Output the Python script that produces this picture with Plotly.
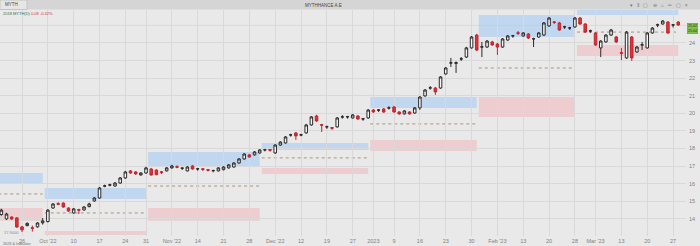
import pandas as pd
import plotly.graph_objects as go

# ---------------- data ----------------
holidays = ["2022-10-28", "2022-12-26", "2023-01-06", "2023-02-27"]
dates = [d for d in pd.bdate_range("2022-09-20", "2023-03-28")
         if d.strftime("%Y-%m-%d") not in holidays]

open_ = [14.25,14.00,14.11,14.06,13.55,13.62,13.50,13.55,13.78,13.85,
         14.62,14.87,14.90,14.62,14.34,14.53,14.51,14.70,15.02,15.19,
         15.86,15.92,15.87,16.04,16.33,16.73,16.67,16.50,16.61,16.84,
         16.78,16.68,16.73,16.90,16.97,16.88,16.73,17.01,16.84,16.85,
         16.80,16.74,16.73,16.80,16.90,16.95,17.18,17.41,17.64,17.64,
         17.75,17.92,17.94,17.75,18.20,18.32,18.77,18.89,18.77,18.89,
         19.34,19.85,19.36,19.23,19.19,19.23,19.79,19.80,19.74,19.85,
         19.68,19.74,20.19,20.18,20.25,20.30,20.36,20.08,19.97,20.08,
         20.02,20.31,20.99,21.44,21.44,21.44,22.24,22.86,22.84,23.09,
         23.20,23.72,24.45,23.77,23.77,24.06,23.94,23.77,24.17,24.40,
         24.58,24.40,24.51,24.23,24.34,24.45,24.97,25.20,25.14,24.91,
         24.85,24.91,25.42,25.08,24.68,24.57,23.72,24.06,24.45,24.34,
         23.45,23.15,24.34,23.49,23.89,23.72,24.57,25.02,25.08,25.19,
         25.02,25.19]
high = [14.58,14.35,14.15,14.10,13.60,13.80,13.62,13.82,14.05,14.56,
        14.90,14.95,14.95,14.66,14.62,14.58,14.72,14.92,15.25,15.82,
        15.95,16.00,16.10,16.38,16.73,16.78,16.72,16.66,16.96,16.90,
        16.82,16.72,16.95,17.08,17.05,16.92,17.00,17.06,16.90,16.88,
        16.84,16.80,16.94,17.00,17.12,17.22,17.46,17.74,17.70,17.86,
        17.97,17.98,17.97,18.25,18.42,18.71,18.84,18.94,18.84,19.40,
        19.85,19.92,19.40,19.30,19.22,19.79,19.90,19.86,19.96,19.90,
        19.74,20.24,20.24,20.25,20.30,20.40,20.42,20.12,20.18,20.12,
        20.36,20.98,21.38,21.55,21.50,22.12,22.63,23.15,22.95,23.20,
        23.78,24.40,24.52,24.06,24.17,24.12,24.00,24.28,24.45,24.46,
        24.68,24.62,24.56,24.30,24.62,25.19,25.48,25.25,25.20,24.98,
        24.92,25.48,25.48,25.12,24.76,24.62,24.16,24.50,24.80,24.40,
        23.72,24.68,24.40,23.83,24.06,24.62,24.90,25.10,25.30,25.25,
        25.08,25.24]
low = [14.18,13.95,13.95,13.50,13.26,13.58,13.28,13.50,13.68,13.80,
       14.58,14.78,14.64,14.40,14.30,14.28,14.47,14.66,14.98,15.15,
       15.80,15.85,15.83,16.00,16.28,16.57,16.50,16.46,16.57,16.46,
       16.48,16.55,16.70,16.86,16.88,16.78,16.70,16.80,16.74,16.72,
       16.70,16.65,16.70,16.76,16.86,16.92,17.14,17.37,17.48,17.60,
       17.71,17.84,17.82,17.70,18.16,18.28,18.68,18.49,18.70,18.85,
       19.30,19.52,18.94,19.12,19.06,19.19,19.70,19.70,19.70,19.64,
       19.58,19.70,20.04,20.08,20.03,20.22,20.03,19.92,19.93,19.93,
       19.98,20.20,20.95,21.35,21.05,21.40,22.20,22.64,22.30,22.98,
       23.15,23.68,23.55,23.20,23.72,23.84,23.32,23.72,24.12,24.30,
       24.45,24.36,24.24,23.77,24.30,24.40,24.92,25.08,24.70,24.80,
       24.74,24.86,25.03,24.58,24.58,23.84,23.20,24.02,24.40,24.00,
       23.03,23.10,22.98,23.44,23.60,23.68,24.52,24.90,25.04,24.52,
       24.88,24.98]
close = [14.50,14.28,14.00,13.54,13.38,13.75,13.47,13.77,13.89,14.50,
         14.85,14.84,14.68,14.45,14.57,14.50,14.68,14.85,15.19,15.76,
         15.88,15.94,16.04,16.33,16.67,16.61,16.56,16.61,16.90,16.50,
         16.52,16.65,16.90,17.01,16.94,16.89,16.95,16.84,16.85,16.82,
         16.77,16.75,16.90,16.95,17.07,17.18,17.41,17.69,17.52,17.81,
         17.92,17.93,17.91,18.20,18.37,18.66,18.78,18.72,18.78,19.34,
         19.80,19.57,19.33,19.24,19.16,19.74,19.80,19.81,19.91,19.68,
         19.69,20.19,20.08,20.19,20.08,20.31,20.08,19.97,20.14,19.97,
         20.31,20.93,21.33,21.45,21.22,22.07,22.58,22.87,22.88,23.10,
         23.72,24.34,23.60,23.78,24.11,23.89,23.77,24.23,24.40,24.41,
         24.55,24.57,24.28,24.24,24.57,25.14,25.42,25.17,24.74,24.92,
         24.86,25.42,25.08,24.62,24.69,23.89,24.11,24.45,24.74,24.06,
         23.42,24.62,23.15,23.77,23.90,24.57,24.85,25.03,25.25,24.57,
         25.03,25.02]

tick_dates = ["2022-09-26","2022-10-03","2022-10-10","2022-10-17","2022-10-24",
              "2022-10-31","2022-11-07","2022-11-14","2022-11-21","2022-11-28",
              "2022-12-05","2022-12-12","2022-12-19","2022-12-27","2023-01-02",
              "2023-01-09","2023-01-16","2023-01-23","2023-01-30","2023-02-06",
              "2023-02-13","2023-02-20","2023-02-28","2023-03-06","2023-03-13",
              "2023-03-20","2023-03-27"]
tick_text = ["26","Oct '22","10","17","24","31","Nov '22","14","21","28",
             "Dec '22","12","19","27","2023","9","16","23","30","Feb '23",
             "13","20","28","Mar '23","13","20","27"]

months = ["2022-09","2022-10","2022-11","2022-12","2023-01","2023-02","2023-03"]
zone_hi_top = [16.61, 15.76, 17.81, 18.32, 20.93, 25.59, 26.10]
zone_hi_bot = [16.04, 15.14, 16.95, 17.92, 20.31, 24.34, 25.59]
zone_mid    = [15.42, 14.34, 15.87, 17.47, 19.40, 22.58, 24.62]
zone_lo_top = [14.62, 13.32, 14.62, 16.90, 18.49, 20.93, 23.89]
zone_lo_bot = [13.89, 13.09, 13.89, 16.56, 17.86, 19.80, 23.26]

last_price = 25.02
y_ticks = list(range(14, 25))
y_grid = list(range(14, 26))

# ---------------- figure ----------------
W, H = 700, 246
ML, MR, MT, MB = 0, 14, 10, 10
PW, PH = W - ML - MR, H - MT - MB
X0_IDX, X1_IDX = -4.26, 128.5
Y0, Y1 = 13.03, 25.875

base = dates.index(pd.Timestamp("2022-09-26"))
xi = [i - base for i in range(len(dates))]
pos = {d.strftime("%Y-%m-%d"): x for d, x in zip(dates, xi)}
tickvals = [pos[d] for d in tick_dates]

fig = go.Figure()
fig.add_trace(go.Candlestick(
    x=xi, open=open_, high=high, low=low, close=close,
    increasing=dict(line=dict(color="#2b2b2b", width=1), fillcolor="#f7f7f7"),
    decreasing=dict(line=dict(color="#c3262e", width=1), fillcolor="#e0333b"),
    whiskerwidth=0, showlegend=False, hoverinfo="skip"))

shapes = []
# grid line at 25 (label hidden under price tag)
shapes.append(dict(type="line", xref="paper", yref="y", x0=0, x1=1,
                   y0=y_grid[-1], y1=y_grid[-1], layer="below",
                   line=dict(color="#d9d9d9", width=1)))
for k, m in enumerate(months):
    idxs = [x for d, x in zip(dates, xi) if d.strftime("%Y-%m") == m]
    a, b = min(idxs) - 0.6, max(idxs)
    shapes.append(dict(type="rect", xref="x", yref="y", x0=a, x1=b,
                       y0=zone_hi_bot[k], y1=zone_hi_top[k], layer="below",
                       fillcolor="rgba(160,200,245,0.55)", line=dict(width=0)))
    shapes.append(dict(type="rect", xref="x", yref="y", x0=a, x1=b,
                       y0=zone_lo_bot[k], y1=zone_lo_top[k], layer="below",
                       fillcolor="rgba(245,170,180,0.45)", line=dict(width=0)))
    shapes.append(dict(type="line", xref="x", yref="y", x0=a, x1=b,
                       y0=zone_mid[k], y1=zone_mid[k], layer="below",
                       line=dict(color="#a8957a", width=1, dash="dot")))

def px(x):
    return (x - ML) / PW

def py(y):
    return 1 - (y - MT) / PH

# top toolbar
shapes.append(dict(type="rect", xref="paper", yref="paper", x0=0, x1=W / PW,
                   y0=py(9.5), y1=py(-1), fillcolor="#d5d5d5",
                   line=dict(width=0), layer="above"))
shapes.append(dict(type="rect", xref="paper", yref="paper", x0=0, x1=px(27),
                   y0=py(9.5), y1=py(0), fillcolor="#e6e6e6",
                   line=dict(color="#c4c4c4", width=1), layer="above"))

fnt = "Liberation Sans, Arial, sans-serif"
ann = []
def text(x, y, s, size=5, color="#555", xanchor="left", **kw):
    ann.append(dict(x=px(x), y=py(y), xref="paper", yref="paper", text=s,
                    showarrow=False, xanchor=xanchor, yanchor="middle",
                    font=dict(family=fnt, size=size, color=color), **kw))

text(3, 4.5, "MYTH", 4.5, "#444")
text(323, 5, "MYTHHANCE A.E", 4.5, "#444", xanchor="center")
text(690, 5, "▾   ‖   ▢   ⊖   ⌂   ═   ▢   ×", 5, "#777", xanchor="right")
text(1, 13.5, "2018 MYTH(D)", 4, "#3f6b3f")
text(29, 13.5, "0.08 -0.32%", 4, "#d23a3a")
text(2, 232, "17.9000", 4, "#8a8a8a")
text(1, 243.5, "2023 & Indicator", 3.8, "#666")

ann.append(dict(x=1.002, y=last_price - 0.17, xref="paper", yref="y",
                text="25.02<br>25.04", showarrow=False, xanchor="left",
                yanchor="middle", bgcolor="#7fc14a", bordercolor="#5d9a33",
                borderwidth=0.5, borderpad=0.5,
                font=dict(family=fnt, size=3.6, color="#1d3b0d")))

fig.update_layout(
    width=W, height=H, margin=dict(l=ML, r=MR, t=MT, b=MB, pad=0),
    paper_bgcolor="#e9e9e9", plot_bgcolor="#e9e9e9",
    shapes=shapes, annotations=ann,
    xaxis=dict(range=[X0_IDX, X1_IDX], tickmode="array", tickvals=tickvals,
               ticktext=tick_text, showgrid=True, gridcolor="#d9d9d9",
               gridwidth=1, zeroline=False, rangeslider=dict(visible=False),
               ticks="", tickfont=dict(family=fnt, size=5.5, color="#808080"),
               showline=False, fixedrange=True),
    yaxis=dict(range=[Y0, Y1], side="right", tickmode="array",
               tickvals=y_ticks, ticktext=[str(v) for v in y_ticks],
               showgrid=True, gridcolor="#d9d9d9", gridwidth=1,
               zeroline=False, ticks="", ticklabelstandoff=2,
               tickfont=dict(family=fnt, size=5.5, color="#808080"),
               showline=False, fixedrange=True),
)

fig.write_html("out.html")
